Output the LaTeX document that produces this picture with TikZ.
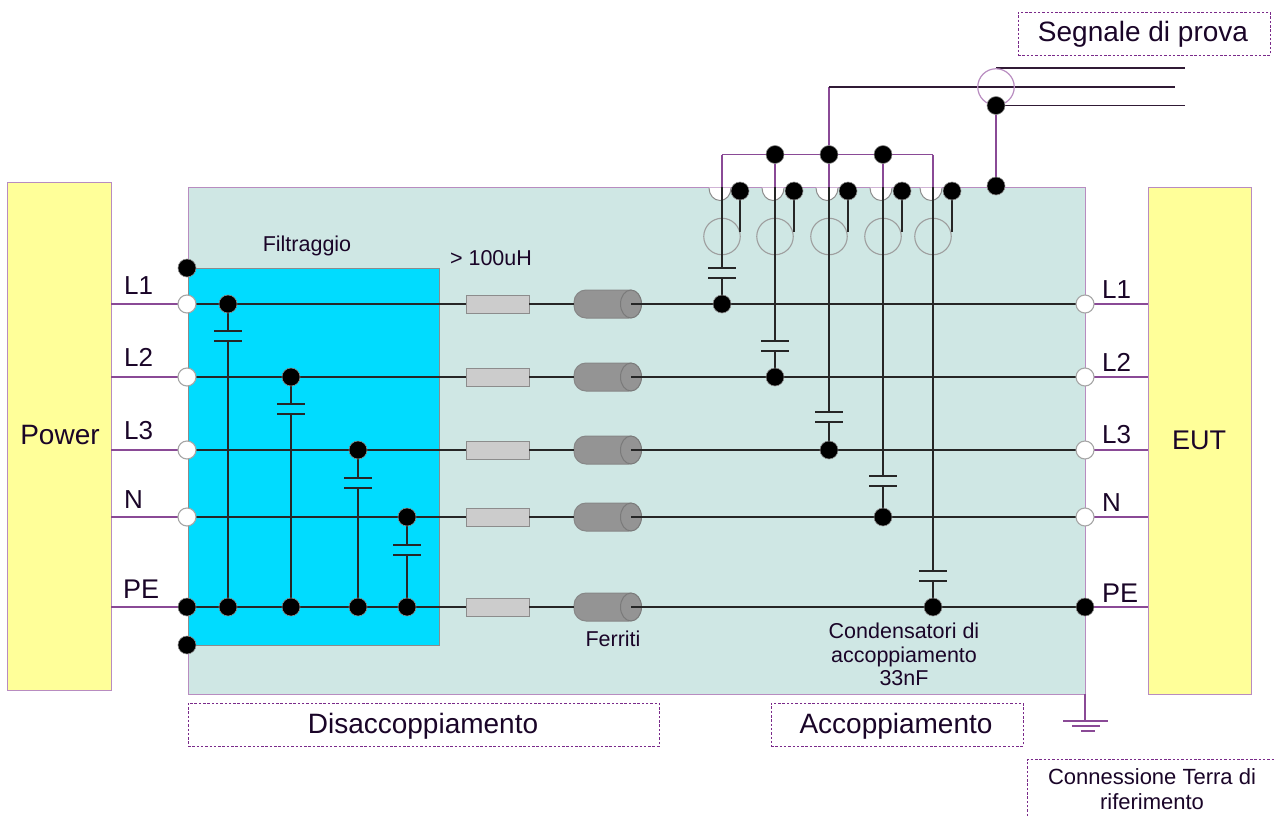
\documentclass[tikz,border=0pt]{standalone}
\usepackage{fontspec}
\usetikzlibrary{shapes.geometric}
\setmainfont{Liberation Sans}
\definecolor{cyel}{HTML}{FFFF99}
\definecolor{cteal}{HTML}{CFE7E4}
\definecolor{cblue}{HTML}{00DCFF}
\definecolor{cedge}{HTML}{B88CC0}
\definecolor{cpur}{HTML}{8A4A96}
\definecolor{cdash}{HTML}{7A2A8A}
\definecolor{ctxt}{HTML}{1A0528}
\definecolor{cgrey}{HTML}{8C8C8C}
\pgfdeclarelayer{bglayer}
\pgfdeclarelayer{linelayer}
\pgfsetlayers{bglayer,linelayer,main}
\newcommand{\halfwhite}[1]{\fill[white] (#1-11,187.5) .. controls (#1-11,195) and (#1-6,200.5) .. (#1,200.5) .. controls (#1+6,200.5) and (#1+11,195) .. (#1+11,187.5) -- cycle;
\draw[draw=cgrey,line width=1pt] (#1-11,188) .. controls (#1-11,195) and (#1-6,200.5) .. (#1,200.5) .. controls (#1+6,200.5) and (#1+11,195) .. (#1+11,188);}
\tikzset{
  box/.style={rectangle,inner sep=0pt,outer sep=0pt,anchor=north west,draw=cedge,line width=1pt},
  dotb/.style={circle,inner sep=0pt,outer sep=0pt,minimum size=18pt,fill=black,draw=black!45,line width=.6pt},
  dotw/.style={circle,inner sep=0pt,outer sep=0pt,minimum size=18pt,fill=white,draw=black!35,line width=1.1pt},
  plate/.style={rectangle,inner sep=0pt,outer sep=0pt,minimum width=28pt,minimum height=1.1pt,fill=black!85},
  resi/.style={rectangle,inner sep=0pt,outer sep=0pt,minimum width=63pt,minimum height=18pt,fill=black!20,draw=cgrey,line width=1pt},
  ferr/.style={rectangle,rounded corners=12pt,inner sep=0pt,outer sep=0pt,minimum width=67pt,minimum height=28pt,fill=black!42,draw=black!47,line width=1pt},
  ferrend/.style={ellipse,inner sep=0pt,outer sep=0pt,minimum width=21pt,minimum height=28pt,fill=black!42,draw=black!52,line width=1pt},
  ring/.style={circle,inner sep=0pt,outer sep=0pt,minimum size=36.5pt,draw=black!38,line width=1.1pt},
  lab/.style={inner sep=0pt,text=ctxt,font=\fontsize{26}{30}\selectfont},
  smalllab/.style={inner sep=0pt,text=ctxt,font=\fontsize{21.5}{24}\selectfont},
  biglab/.style={inner sep=0pt,text=ctxt,font=\fontsize{28}{32}\selectfont},
  dashbox/.style={rectangle,inner sep=0pt,outer sep=0pt,anchor=north west,draw=cdash,line width=.9pt,dash pattern=on 2.5pt off 1.8pt,text=ctxt},
  wp/.style={cpur,line width=1.1pt},
  wb/.style={black!85,line width=1.1pt},
  wg/.style={black!65!cpur,line width=1.1pt}
}
\begin{document}
\begin{tikzpicture}[x=1pt,y=-1pt]
\useasboundingbox (0,0) rectangle (1276,816);
\begin{pgfonlayer}{bglayer}
\node[box,fill=cyel,minimum width=104pt,minimum height=508pt] (power) at (7,182) {};
\node[box,fill=cyel,minimum width=103pt,minimum height=507pt] (eut) at (1148,187) {};
\node[box,fill=cteal,minimum width=897pt,minimum height=507pt] (panel) at (188,187) {};
\node[box,fill=cblue,draw=cgrey,minimum width=251pt,minimum height=377pt] (filter) at (188,268) {};
\end{pgfonlayer}
% texts
\node[biglab] (tpower) at (60,435) {Power};
\node[biglab,font=\fontsize{27}{30}\selectfont] (teut) at (1199,440) {EUT};
\node[lab,anchor=west] (tl1a) at (124,286) {L1};
\node[lab,anchor=west] (tl2a) at (124,357) {L2};
\node[lab,anchor=west] (tl3a) at (124,431) {L3};
\node[lab,anchor=west] (tna) at (124,500) {N};
\node[lab,anchor=west,font=\fontsize{27}{30}\selectfont] (tpea) at (123,589) {PE};
\node[lab,anchor=west] (tl1b) at (1102,290) {L1};
\node[lab,anchor=west] (tl2b) at (1102,362) {L2};
\node[lab,anchor=west] (tl3b) at (1102,435) {L3};
\node[lab,anchor=west] (tnb) at (1102,503) {N};
\node[lab,anchor=west,font=\fontsize{27}{30}\selectfont] (tpeb) at (1102,593) {PE};
\node[smalllab] (tfilt) at (307,246) {Filtraggio};
\node[smalllab] (tind) at (491,258) {> 100uH};
\node[smalllab] (tfer) at (613,639) {Ferriti};
\node[smalllab,align=center,font=\fontsize{21.5}{23.5}\selectfont] (tcond) at (904,654.5) {Condensatori di\\accoppiamento\\33nF};
\node[dashbox,minimum width=252pt,minimum height=43pt] (bseg) at (1018,12) {};
\node[biglab] (tseg) at (1143,34.5) {Segnale di prova};
\node[dashbox,minimum width=471pt,minimum height=43pt] (bdis) at (188,703) {};
\node[biglab] (tdis) at (423,726.5) {Disaccoppiamento};
\node[dashbox,minimum width=252pt,minimum height=43pt] (bacc) at (771,703) {};
\node[biglab] (tacc) at (896,726.5) {Accoppiamento};
\coordinate (cna) at (1027,816);
\coordinate (cnb) at (1027,759.5);
\coordinate (cnc) at (1276,759.5);
\draw[cdash,line width=.9pt,dash pattern=on 2.5pt off 1.8pt] (cna) -- (cnb) -- (cnc);
\node[smalllab,align=center,font=\fontsize{22}{25}\selectfont] (tconn) at (1152,789.5) {Connessione Terra di\\riferimento};
% terminal dots
\foreach \n/\y in {1/304,2/377,3/450,4/517}{
  \node[dotw] (wl\n) at (187,\y) {};
  \node[dotw] (wr\n) at (1085,\y) {};
}
\node[dotb] (wl5) at (187,607) {};
\node[dotb] (wr5) at (1085,607) {};
\node[dotb] (gtop) at (187,268) {};
\node[dotb] (gbot) at (187,645) {};
% filter capacitors and junctions
\foreach \n/\x/\y/\p in {1/228/304/331,2/291/377/404,3/358/450/478,4/407/517/545}{
  \node[dotb] (fd\n) at (\x,\y) {};
  \node[dotb] (fg\n) at (\x,607) {};
  \node[plate] (fpa\n) at (\x,\p) {};
  \node[plate] (fpb\n) at (\x,\p+10) {};
}
% coupling capacitors and junctions
\foreach \n/\x/\y/\p in {1/722/304/268,2/775/377/341,3/829/450/412,4/883/517/476,5/933/607/571}{
  \node[dotb] (cd\n) at (\x,\y) {};
  \node[plate] (cpa\n) at (\x,\p) {};
  \node[plate] (cpb\n) at (\x,\p+10) {};
  \coordinate (cr\n) at (\x,154.5);
  \coordinate (cm\n) at (\x,187);
}
\foreach \n/\x in {1/740,2/794,3/848,4/902,5/952}{
  \node[dotb] (ct\n) at (\x,191) {};
}
\foreach \n in {2,3,4}{
  \node[dotb] (rd\n) at (cr\n) {};
}
% injection clamp
\node[circle,inner sep=0pt,outer sep=0pt,minimum size=36.5pt,draw=cedge,line width=1.2pt] (clamp) at (996,87) {};
\node[dotb] (sd) at (996,105.5) {};
\node[dotb] (se) at (996,186) {};
\coordinate (sa) at (996,68);
\coordinate (sae) at (1185,68);
\coordinate (sbe) at (1175,87);
\coordinate (sce) at (1185,105.5);
\coordinate (sk) at (829,87);
\coordinate (gnd) at (1085,694);
\begin{pgfonlayer}{linelayer}
\foreach \n/\y in {1/304,2/377,3/450,4/517,5/607}{
  \node[resi] (res\n) at (497.5,\y) {};
  \node[ferr] (fer\n) at (607.5,\y) {};
  \node[ferrend] (fe\n) at (631,\y) {};
}
\foreach \n/\x/\cx in {1/722/720,2/775/773,3/829/827,4/883/881,5/933/931}{
  \node[ring] (rg\n) at (\x,236.5) {};
  \halfwhite{\cx}
}
% rows
\foreach \n/\y in {1/304,2/377,3/450,4/517,5/607}{
  \coordinate (pl\n) at (power.east |- wl\n);
  \coordinate (pr\n) at (eut.west |- wr\n);
  \draw[wp] (pl\n) -- (wl\n.center);
  \draw[wp] (wr\n.center) -- (pr\n);
  \draw[wb] (wl\n.center) -- (res\n.west);
  \draw[wb] (res\n.east) -- (fer\n.west);
  \draw[wb] (fe\n.center) -- (wr\n.center);
}
\foreach \n in {1,2,3,4}{
  \draw[wb] (fd\n.center) -- (fpa\n.center);
  \draw[wb] (fpb\n.center) -- (fg\n.center);
}
\foreach \n in {1,2,3,4,5}{
  \draw[wb] (cm\n) -- (cpa\n.center);
  \draw[wb] (cpb\n.center) -- (cd\n.center);
  \draw[wp] (cr\n) -- (cm\n);
  \coordinate (ctb\n) at (ct\n |- 0,232);
  \draw[wb] (ct\n.center) -- (ctb\n);
}
\draw[wp] (cr1) -- (cr5);
\draw[wp] (sk) -- (rd3.center);
\draw[wg] (sk) -- (sbe);
\draw[wg] (sa) -- (sae);
\draw[wg] (sd.center) -- (sce);
\draw[wp] (sd.center) -- (se.center);
% ground
\coordinate (g0) at (1085,721);
\coordinate (g1a) at (1063,721);
\coordinate (g1b) at (1108,721);
\coordinate (g2a) at (1072,726);
\coordinate (g2b) at (1100,726);
\coordinate (g3a) at (1081,731);
\coordinate (g3b) at (1095,731);
\draw[wp] (gnd) -- (g0);
\draw[wp] (g1a) -- (g1b);
\draw[wp] (g2a) -- (g2b);
\draw[wp] (g3a) -- (g3b);
\end{pgfonlayer}
\end{tikzpicture}
\end{document}
